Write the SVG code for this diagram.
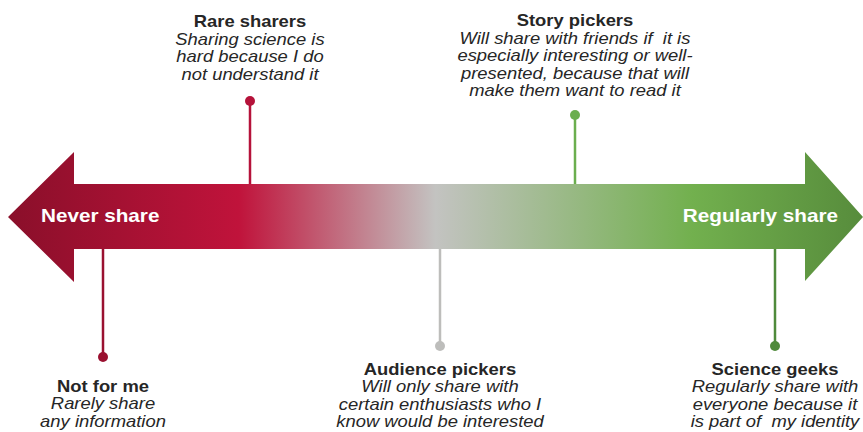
<svg xmlns="http://www.w3.org/2000/svg" width="863" height="432" viewBox="0 0 863 432">
<defs>
<linearGradient id="g" x1="8" y1="0" x2="863" y2="0" gradientUnits="userSpaceOnUse">
<stop offset="0" stop-color="#8a0f2a"/>
<stop offset="0.27" stop-color="#c0133b"/>
<stop offset="0.5" stop-color="#c3c3c1"/>
<stop offset="0.8" stop-color="#72b04e"/>
<stop offset="1" stop-color="#578c3c"/>
</linearGradient>
<style>
.t{font-family:"Liberation Sans",Arial,sans-serif;font-size:16px;fill:#262626;text-anchor:middle}
.b{font-weight:bold}
.i{font-style:italic}
.w{font-family:"Liberation Sans",Arial,sans-serif;font-size:18px;font-weight:bold;fill:#ffffff}
.c{stroke-width:2.5;fill:none}
</style>
</defs>
<g id="arrow">
<path d="M8,217 L74,152 L74,184 L805,184 L805,152 L863,217 L805,281 L805,249 L74,249 L74,282 Z" fill="url(#g)"/>
<g transform="scale(1.15,1)">
<text class="w" x="35.65" y="222">Never share</text>
<text class="w" x="728.7" y="222" text-anchor="end">Regularly share</text>
</g>
</g>
<g id="connectors">
<line class="c" x1="250" y1="101" x2="250" y2="184" stroke="#b5123a"/>
<circle cx="250" cy="101" r="5" fill="#b5123a"/>
<line class="c" x1="575" y1="115" x2="575" y2="184" stroke="#6bae4e"/>
<circle cx="575" cy="115" r="5" fill="#6bae4e"/>
<line class="c" x1="103" y1="249" x2="103" y2="357" stroke="#9a1030"/>
<circle cx="103" cy="357" r="5" fill="#9a1030"/>
<line class="c" x1="440" y1="249" x2="440" y2="346" stroke="#bdbdbb"/>
<circle cx="440" cy="346" r="5" fill="#bdbdbb"/>
<line class="c" x1="775" y1="249" x2="775" y2="346" stroke="#4f8a3b"/>
<circle cx="775" cy="346" r="5" fill="#4f8a3b"/>
</g>
<g id="rare-sharers" transform="scale(1.15,1)">
<text class="t b" x="217.39" y="27">Rare sharers</text>
<text class="t i" x="217.39" y="45">Sharing science is</text>
<text class="t i" x="217.39" y="62.5">hard because I do</text>
<text class="t i" x="217.39" y="80">not understand it</text>
</g>
<g id="story-pickers" transform="scale(1.15,1)">
<text class="t b" x="500" y="26">Story pickers</text>
<text class="t i" x="500" y="44">Will share with friends if&#160; it is</text>
<text class="t i" x="500" y="61.5">especially interesting or well-</text>
<text class="t i" x="500" y="79">presented, because that will</text>
<text class="t i" x="500" y="96.5">make them want to read it</text>
</g>
<g id="not-for-me" transform="scale(1.15,1)">
<text class="t b" x="89.57" y="392">Not for me</text>
<text class="t i" x="89.57" y="409.5">Rarely share</text>
<text class="t i" x="89.57" y="427">any information</text>
</g>
<g id="audience-pickers" transform="scale(1.15,1)">
<text class="t b" x="382.61" y="375">Audience pickers</text>
<text class="t i" x="382.61" y="392.5">Will only share with</text>
<text class="t i" x="382.61" y="410">certain enthusiasts who I</text>
<text class="t i" x="382.61" y="427.5">know would be interested</text>
</g>
<g id="science-geeks" transform="scale(1.15,1)">
<text class="t b" x="673.91" y="375">Science geeks</text>
<text class="t i" x="673.91" y="392.5">Regularly share with</text>
<text class="t i" x="673.91" y="410">everyone because it</text>
<text class="t i" x="673.91" y="427.5">is part of&#160; my identity</text>
</g>
</svg>
